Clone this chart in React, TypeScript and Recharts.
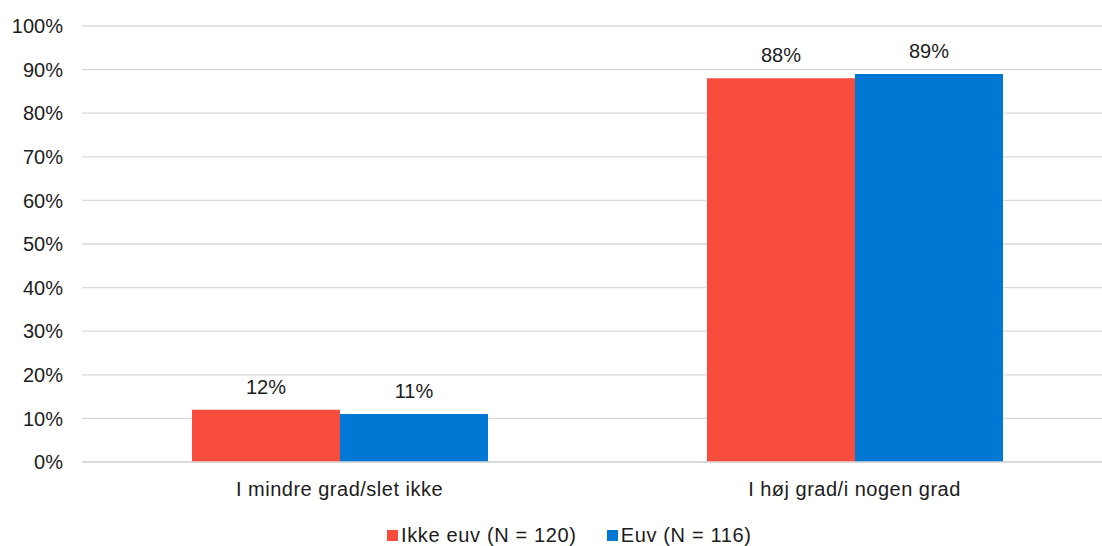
import React from "react";
import { BarChart, Bar, XAxis, YAxis, CartesianGrid, Legend, LabelList } from "recharts";

const categories = ["I mindre grad/slet ikke", "I høj grad/i nogen grad"];
const ikkeEuv = [12, 88];
const euv = [11, 89];
const yTicks = [0, 10, 20, 30, 40, 50, 60, 70, 80, 90, 100];
const seriesNames = ["Ikke euv (N = 120)", "Euv (N = 116)"];
const seriesColors = ["#F84C3C", "#0078D4"];

const data = categories.map((c, i) => ({ name: c, a: ikkeEuv[i], b: euv[i] }));

const FONT = "'Liberation Sans', Arial, sans-serif";
const FS = 20;
const INK = "#1c1c1c";

const LegendContent = () => (
  <div style={{ display: "flex", justifyContent: "flex-start", paddingLeft: 387, fontFamily: FONT, fontSize: FS, letterSpacing: 0.65, color: INK, lineHeight: "24px", paddingTop: 1 }}>
    {seriesNames.map((n, i) => (
      <div key={n} style={{ display: "flex", alignItems: "center", marginRight: i === 0 ? 30 : 0 }}>
        <span style={{ display: "inline-block", width: 11, height: 11, background: seriesColors[i], marginRight: 3 }} />
        <span>{n}</span>
      </div>
    ))}
  </div>
);

export default function App() {
  return (
    <div style={{ position: "absolute", left: 0, top: 0, width: 1102, height: 546, overflow: "hidden", background: "#fff" }}>
      <BarChart
        width={1112}
        height={546}
        data={data}
        margin={{ top: 26, right: 0, left: 0, bottom: 0 }}
        barCategoryGap={110}
        barGap={0}
      >
        <CartesianGrid vertical={false} stroke="#d9d9d9" strokeWidth={1.3} />
        <XAxis
          xAxisId="ticks"
          type="number"
          domain={[0, 2]}
          ticks={[0, 1, 2]}
          height={0}
          tick={false}
          axisLine={false}
          tickLine={{ stroke: "#d9d9d9", strokeWidth: 1.5 }}
          tickSize={6}
        />
        <XAxis
          dataKey="name"
          height={60}
          axisLine={{ stroke: "#d9d9d9", strokeWidth: 1.5 }}
          tickLine={false}
          tickSize={0}
          tickMargin={20}
          tick={{ fill: INK, fontSize: FS, fontFamily: FONT, letterSpacing: 0.5 }}
        />
        <YAxis
          width={82}
          domain={[0, 100]}
          ticks={yTicks}
          interval={0}
          tickFormatter={(v) => `${v}%`}
          axisLine={false}
          tickLine={false}
          tickSize={0}
          tickMargin={19}
          tick={{ fill: INK, fontSize: FS, fontFamily: FONT }}
        />
        <Legend verticalAlign="bottom" wrapperStyle={{ height: 24 }} content={<LegendContent />} />
        <Bar dataKey="a" name={seriesNames[0]} fill={seriesColors[0]} isAnimationActive={false}>
          <LabelList dataKey="a" position="top" offset={16} formatter={(v) => `${v}%`} style={{ fill: INK, fontSize: FS, fontFamily: FONT }} />
        </Bar>
        <Bar dataKey="b" name={seriesNames[1]} fill={seriesColors[1]} isAnimationActive={false}>
          <LabelList dataKey="b" position="top" offset={16} formatter={(v) => `${v}%`} style={{ fill: INK, fontSize: FS, fontFamily: FONT }} />
        </Bar>
      </BarChart>
    </div>
  );
}
